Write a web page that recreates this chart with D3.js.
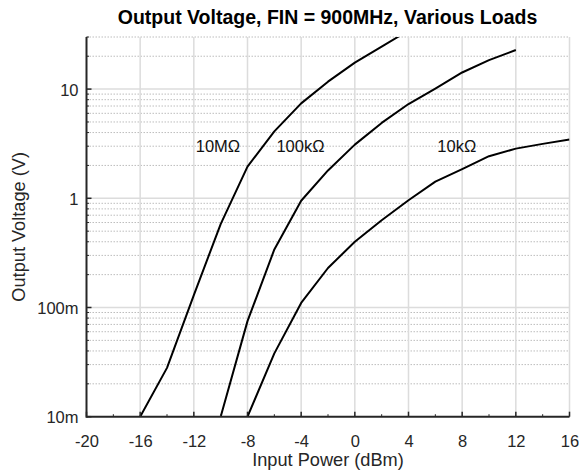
<!DOCTYPE html>
<html>
<head>
<meta charset="utf-8">
<script src="https://cdn.jsdelivr.net/npm/d3@7"></script>
<style>
  html, body { margin: 0; padding: 0; background: #fff; }
  svg { display: block; font-family: "Liberation Sans", Arial, sans-serif; }
</style>
</head>
<body>
<svg id="chart" width="579" height="475"></svg>
<script>
// ---- data ----
const inputPower10M  = [-16, -14, -12, -10, -8, -6, -4, -2, 0, 2, 3.3];
const voltage10M     = [0.01, 0.028, 0.13, 0.58, 1.95, 4.1, 7.4, 11.7, 17.5, 24.5, 30.5];
const inputPower100k = [-10, -8, -6, -4, -2, 0, 2, 4, 6, 8, 10, 12];
const voltage100k    = [0.01, 0.075, 0.34, 0.95, 1.8, 3.1, 4.9, 7.3, 10.1, 14.2, 18.4, 22.8];
const inputPower10k  = [-8, -6, -4, -2, 0, 2, 4, 6, 8, 10, 12, 14, 16];
const voltage10k     = [0.01, 0.038, 0.11, 0.23, 0.4, 0.63, 0.96, 1.42, 1.85, 2.43, 2.85, 3.15, 3.45];

const seriesNames = ["10MΩ", "100kΩ", "10kΩ"];
const labelPower  = [-10.2, -4.05, 7.6];
const labelVolt   = [3, 3, 3];

const xTicks = [-20, -16, -12, -8, -4, 0, 4, 8, 12, 16];
const xTickLabels = ["-20", "-16", "-12", "-8", "-4", "0", "4", "8", "12", "16"];
const yTicks = [0.01, 0.1, 1, 10];
const yTickLabels = ["10m", "100m", "1", "10"];

const titleText = "Output Voltage, FIN = 900MHz, Various Loads";
const xLabelText = "Input Power (dBm)";
const yLabelText = "Output Voltage (V)";

// ---- layout ----
const svg = d3.select("#chart");
const L = 86.5, R = 569.5, T = 37, B = 416.7;

const x = d3.scaleLinear().domain([-20, 16]).range([L, R]);
const y = d3.scaleLog().domain([0.01, 30]).range([B, T]);

// minor log values
const minorVals = [];
[0.01, 0.1, 1, 10].forEach(d => {
  for (let k = 2; k <= 9; k++) { const v = d * k; if (v <= 30.0001) minorVals.push(v); }
});

const grid = svg.append("g");
grid.selectAll(".ymin").data(minorVals).join("line")
  .attr("x1", L).attr("x2", R)
  .attr("y1", d => y(d)).attr("y2", d => y(d))
  .attr("stroke", "#bdbdbd").attr("stroke-width", 1)
  .attr("stroke-dasharray", "1.5,1.5");
grid.selectAll(".ymaj").data(yTicks.slice(1)).join("line")
  .attr("x1", L).attr("x2", R)
  .attr("y1", d => y(d)).attr("y2", d => y(d))
  .attr("stroke", "#dcdcdc").attr("stroke-width", 1.5);
grid.selectAll(".xg").data(xTicks.slice(1)).join("line")
  .attr("x1", d => x(d)).attr("x2", d => x(d))
  .attr("y1", T).attr("y2", B)
  .attr("stroke", "#dcdcdc").attr("stroke-width", 1.5);

svg.append("clipPath").attr("id", "clip").append("rect")
  .attr("x", L).attr("y", T).attr("width", R - L).attr("height", B - T);

const line = d3.line().x(d => x(d[0])).y(d => y(d[1]));
const series = [
  d3.zip(inputPower10M, voltage10M),
  d3.zip(inputPower100k, voltage100k),
  d3.zip(inputPower10k, voltage10k)
];
svg.append("g").attr("clip-path", "url(#clip)")
  .selectAll("path").data(series).join("path")
  .attr("d", line)
  .attr("fill", "none").attr("stroke", "#000").attr("stroke-width", 2)
  .attr("stroke-linejoin", "round");

svg.append("g").selectAll("text").data(seriesNames).join("text")
  .attr("x", (d, i) => x(labelPower[i]))
  .attr("y", (d, i) => y(labelVolt[i]))
  .attr("dy", "0.36em")
  .attr("text-anchor", "middle")
  .attr("font-size", 16.5).attr("fill", "#111")
  .text(d => d);

const axisColor = "#262626";
const xAxis = d3.axisBottom(x).tickValues(xTicks).tickSize(0).tickPadding(0)
  .tickFormat((d, i) => xTickLabels[i]);
const gx = svg.append("g").attr("transform", `translate(0,${B})`).call(xAxis);
gx.select(".domain").remove();
gx.selectAll("text").attr("font-size", 16.5).attr("fill", axisColor)
  .attr("font-family", "Liberation Sans, Arial, sans-serif")
  .attr("dy", null).attr("y", 30);

const yAxis = d3.axisLeft(y).tickValues(yTicks).tickSize(0).tickPadding(0)
  .tickFormat((d, i) => yTickLabels[i]);
const gy = svg.append("g").attr("transform", `translate(${L},0)`).call(yAxis);
gy.select(".domain").remove();
gy.selectAll("text").attr("font-size", 16.5).attr("fill", axisColor)
  .attr("font-family", "Liberation Sans, Arial, sans-serif")
  .attr("x", -8).attr("dy", "0.36em");

const tk = svg.append("g").attr("stroke", axisColor);
tk.selectAll(".xt").data(xTicks).join("line")
  .attr("x1", d => x(d)).attr("x2", d => x(d)).attr("y1", B).attr("y2", B - 5)
  .attr("stroke-width", 1.5);
tk.selectAll(".xm").data(d3.range(-18, 16, 4)).join("line")
  .attr("x1", d => x(d)).attr("x2", d => x(d)).attr("y1", B).attr("y2", B - 2.5)
  .attr("stroke-width", 1);
tk.selectAll(".yt").data(yTicks).join("line")
  .attr("x1", L).attr("x2", L + 5).attr("y1", d => y(d)).attr("y2", d => y(d))
  .attr("stroke-width", 1.5);
tk.selectAll(".ym").data(minorVals).join("line")
  .attr("x1", L).attr("x2", L + 2.5).attr("y1", d => y(d)).attr("y2", d => y(d))
  .attr("stroke-width", 1);

svg.append("line").attr("x1", L).attr("x2", R).attr("y1", B).attr("y2", B)
  .attr("stroke", axisColor).attr("stroke-width", 2);
svg.append("line").attr("x1", L).attr("x2", L).attr("y1", T).attr("y2", B + 1)
  .attr("stroke", axisColor).attr("stroke-width", 2);

svg.append("text").attr("x", (L + R) / 2 - 0.5).attr("y", 24)
  .attr("text-anchor", "middle").attr("font-size", 19.5).attr("font-weight", "bold")
  .attr("fill", "#000").text(titleText);
svg.append("text").attr("x", (L + R) / 2).attr("y", 466)
  .attr("text-anchor", "middle").attr("font-size", 18.2).attr("fill", axisColor)
  .text(xLabelText);
svg.append("text").attr("transform", `translate(25,${(T + B) / 2}) rotate(-90)`)
  .attr("text-anchor", "middle").attr("font-size", 18.2).attr("fill", axisColor)
  .text(yLabelText);
</script>
</body>
</html>
